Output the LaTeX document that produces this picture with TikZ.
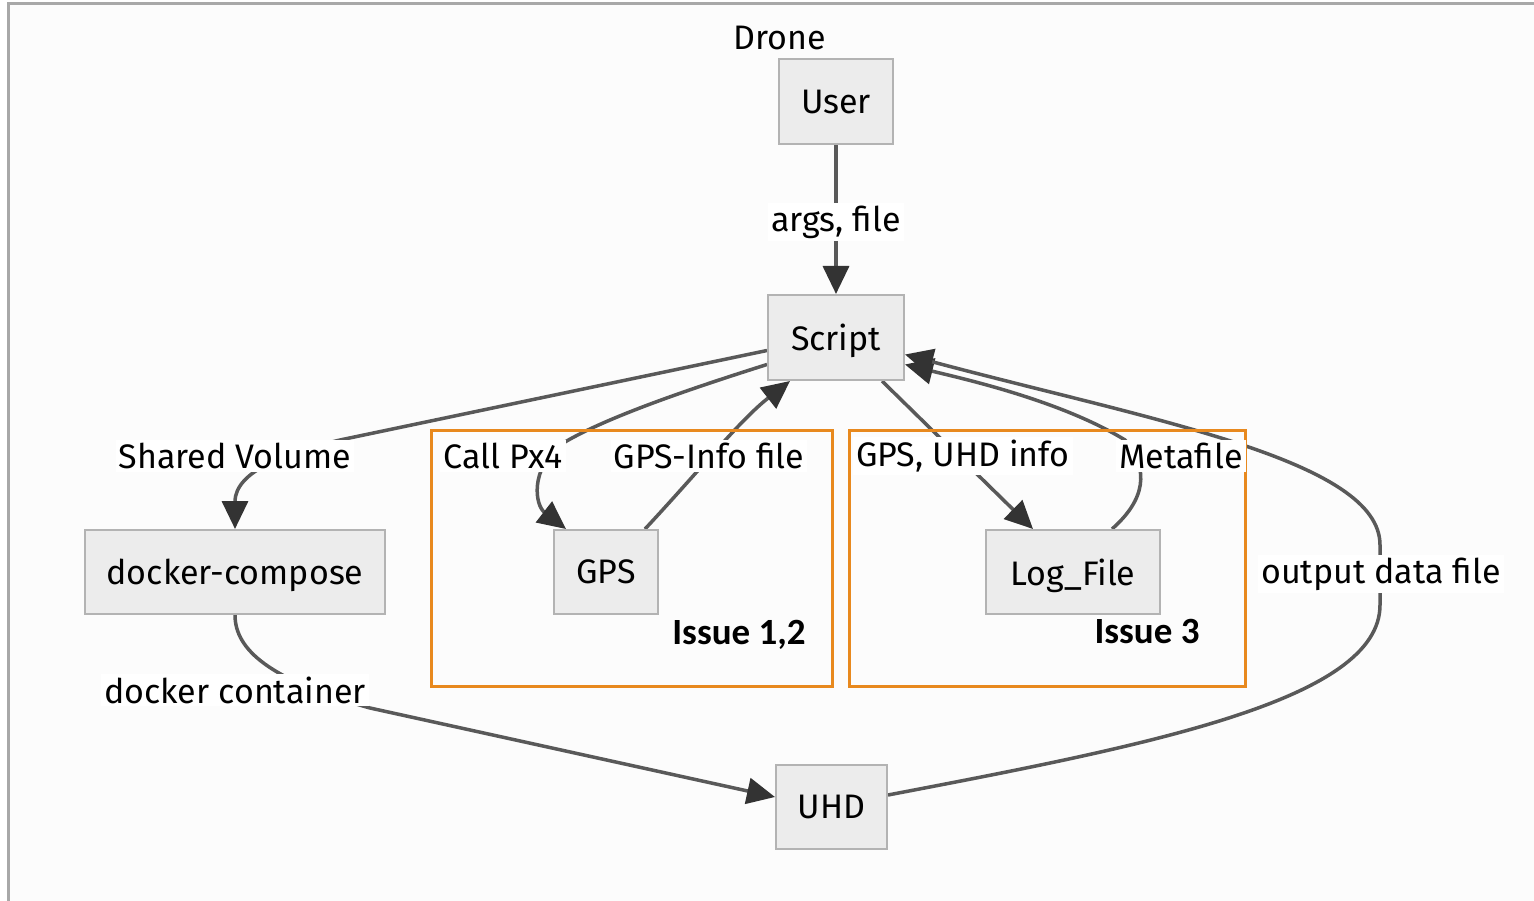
\documentclass[tikz,border=0pt]{standalone}
\usepackage{fontspec}
\setmainfont{Fira Sans}
\newfontfamily\issuefont{Carlito}
\usetikzlibrary{arrows.meta}
\definecolor{canvas}{HTML}{FCFCFC}
\definecolor{frame}{HTML}{A8A8A8}
\definecolor{boxfill}{HTML}{ECECEC}
\definecolor{boxline}{HTML}{B3B3B3}
\definecolor{wire}{HTML}{595959}
\definecolor{tipcol}{HTML}{333333}
\definecolor{issue}{HTML}{E8891E}
\pgfdeclarelayer{back}
\pgfdeclarelayer{wires}
\pgfsetlayers{back,wires,main}
\tikzset{
  every node/.style={font=\fontsize{34}{39}\selectfont, text=black},
  procbox/.style={draw=boxline, fill=boxfill, line width=2pt, inner sep=0pt, text depth=0pt},
  lbl/.style={fill=white, inner sep=3pt},
  wire/.style={draw=wire, line width=3.5pt},
  arr/.style={wire, -{Triangle[length=28pt,width=26pt,color=tipcol]}},
  issuebox/.style={draw=issue, line width=3pt},
  issuelbl/.style={font=\issuefont\bfseries\fontsize{37}{42}\selectfont, text=black}
}
\begin{document}
\begin{tikzpicture}[x=1pt,y=-1pt]
\useasboundingbox (0,0) rectangle (1534,901);
\begin{pgfonlayer}{back}
  \fill[white] (0,0) rectangle (1534,901);
  \fill[canvas] (8,4) rectangle (1534,901);
  \draw[frame, line width=3pt] (8,901) -- (8,4) -- (1534,4);
\end{pgfonlayer}

% group frames
\draw[issuebox] (431,430) rectangle (832,686);
\draw[issuebox] (849,430) rectangle (1245,686);
\node[issuelbl] (iss12) at (739,635) {Issue 1,2};
\node[issuelbl] (iss3) at (1147,632) {Issue 3};

% title
\node (drone) at (780,38) {Drone};

% process boxes
\node[procbox, minimum width=114pt, minimum height=85pt] (user)   at (836,102)   {User};
\node[procbox, minimum width=136pt, minimum height=85pt] (script) at (836,337.5) {Script};
\node[procbox, minimum width=300pt, minimum height=84pt] (dc)     at (235,572)   {docker-compose};
\node[procbox, minimum width=104pt, minimum height=84pt] (gps)    at (606,572)   {GPS};
\node[procbox, minimum width=174pt, minimum height=84pt] (logf)   at (1073,572)  {Log\_File};
\node[procbox, minimum width=111pt, minimum height=84pt] (uhd)    at (831.5,807) {UHD};

% edge labels
\node[lbl] (largs) at (836,222)  {args, file};
\node[lbl] (lsv)   at (235,456)  {Shared Volume};
\node[lbl] (lpx)   at (503,456)  {Call Px4};
\node[lbl] (lgi)   at (709,456)  {GPS-Info file};
\node[lbl] (lgu)   at (963,456)  {GPS, UHD info};
\node[lbl] (lmf)   at (1181,456) {Metafile};
\node[lbl] (lout)  at (1381,574) {output data file};
\node[lbl] (ldc)   at (235,690)  {docker container};

\begin{pgfonlayer}{wires}
  % User -> Script
  \draw[arr] (user) -- (script);
  % Script -> docker-compose
  \draw[arr] ([yshift=-13pt]script.west) -- (340,440)
        .. controls (290,452) and (235,470) .. (dc.north);
  % Script -> GPS
  \draw[arr] ([yshift=-27pt]script.west) .. controls (680,392) and (600,420) .. (560,445)
        .. controls (530,470) and (535,505) .. ([xshift=-40pt]gps.north);
  % GPS -> Script
  \draw[arr] ([xshift=39pt]gps.north) .. controls (700,470) and (740,420) .. ([xshift=-46pt]script.south);
  % Script -> Log_File
  \draw[arr] ([xshift=46pt]script.south) -- ([xshift=-40pt]logf.north);
  % Log_File -> Script
  \draw[arr] ([xshift=39pt]logf.north) .. controls (1145,500) and (1150,470) .. (1125,440)
        .. controls (1060,400) and (960,378) .. ([yshift=-27pt]script.east);
  % UHD -> Script
  \draw[arr] ([yshift=12pt]uhd.east) .. controls (1150,745) and (1380,700) .. (1380,605)
        -- (1380,545) .. controls (1380,460) and (1150,420) .. ([yshift=-17pt]script.east);
  % docker-compose -> UHD
  \draw[arr] (dc.south) .. controls (235,650) and (270,680) .. (370,708)
        -- ([yshift=10pt]uhd.west);
\end{pgfonlayer}
\end{tikzpicture}
\end{document}
